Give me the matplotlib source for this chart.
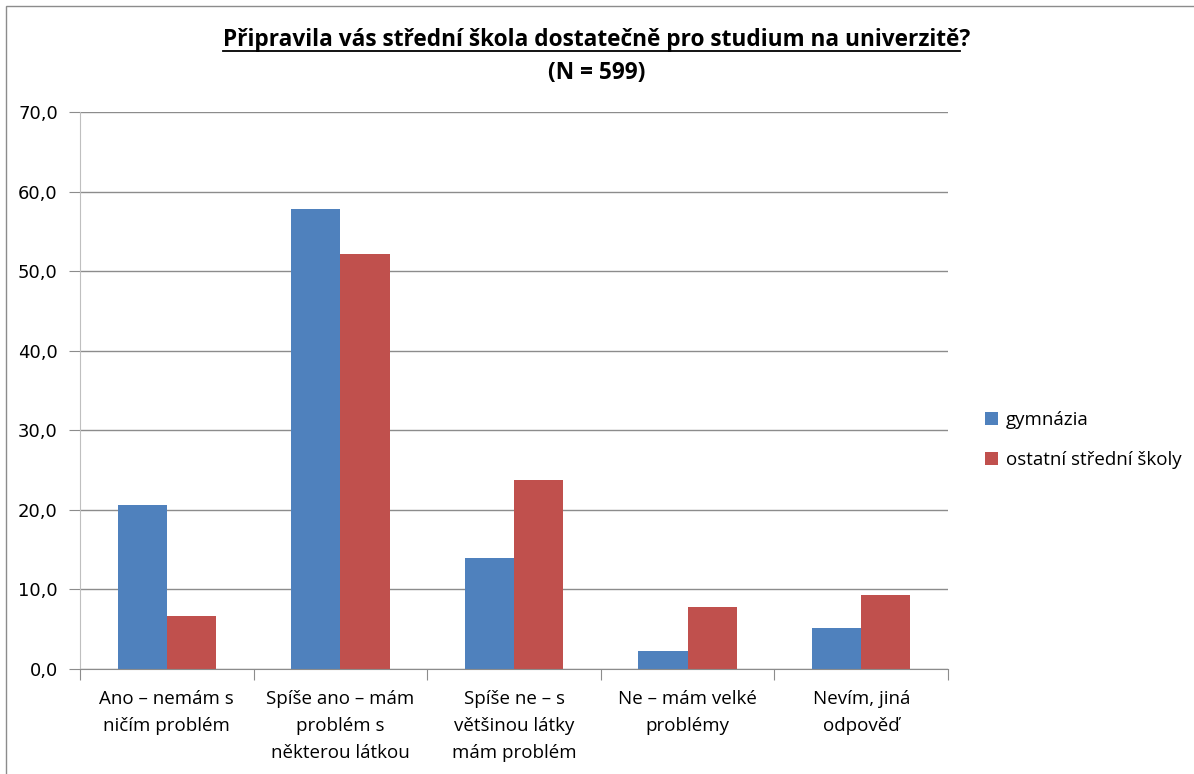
import numpy as np
import matplotlib.pyplot as plt
from matplotlib.patches import Rectangle
from matplotlib.lines import Line2D

# dati
kategorie = [
    "Ano – nemám s\nničím problém",
    "Spíše ano – mám\nproblém s\nněkterou látkou",
    "Spíše ne – s\nvětšinou látky\nmám problém",
    "Ne – mám velké\nproblémy",
    "Nevím, jiná\nodpověď",
]
gymnazia = [20.6, 57.8, 13.9, 2.2, 5.1]
ostatni = [6.7, 52.2, 23.8, 7.8, 9.3]
serie = ["gymnázia", "ostatní střední školy"]
titolo = "Připravila vás střední škola dostatečně pro studium na univerzitě"

font_txt = ["Liberation Sans Narrow", "Open Sans", "DejaVu Sans"]
plt.rcParams["font.family"] = font_txt

fig = plt.figure(figsize=(11.94, 7.74), dpi=100)
ax = fig.add_axes([80 / 1194, 1 - 669 / 774, 868 / 1194, (669 - 112) / 774])

x = np.arange(len(kategorie))
w = 0.283
b1 = ax.bar(x - w / 2, gymnazia, w, color="#4f81bd", label=serie[0])
b2 = ax.bar(x + w / 2, ostatni, w, color="#c0504d", label=serie[1])

ax.set_xlim(-0.5, len(kategorie) - 0.5)
ax.set_ylim(0, 70)
ax.set_yticks(np.arange(0, 71, 10))
ax.set_yticklabels([f"{v:.1f}".replace(".", ",") for v in np.arange(0, 71, 10)],
                   family="DejaVu Sans", fontsize=13)
ax.yaxis.grid(True, color="#8c8c8c", linewidth=1)
ax.set_axisbelow(True)

# tacche sui confini delle categorie
ax.set_xticks(np.arange(-0.5, len(kategorie)), minor=False)
ax.set_xticklabels([])
ax.set_xticks(x, minor=True)
ax.set_xticklabels(kategorie, minor=True, fontsize=13.5, linespacing=1.65)
ax.tick_params(axis="x", which="minor", length=0, pad=15)
ax.tick_params(axis="x", which="major", length=8, color="#8c8c8c")
ax.tick_params(axis="y", length=8, color="#8c8c8c", pad=8)

for s in ["top", "right"]:
    ax.spines[s].set_visible(False)
ax.spines["left"].set_color("#bfbfbf")
ax.spines["bottom"].set_color("#8c8c8c")

# titolo (sottolineato tranne il punto interrogativo)
t = fig.text(0.5, 1 - 40 / 774, titolo + "?", ha="center", va="center",
             fontsize=16.3, fontweight="bold")
fig.text(0.5, 1 - 73 / 774, "(N = 599)", ha="center", va="center",
         fontsize=16.3, fontweight="bold")
r = fig.canvas.get_renderer()
bb = t.get_window_extent(r)
q = fig.text(0, 0, "?", fontsize=16.3, fontweight="bold")
wq = q.get_window_extent(r).width
q.remove()
y_line = (1 - 51 / 774)
fig.add_artist(Line2D([bb.x0 / 1194, (bb.x1 - wq) / 1194], [y_line, y_line],
                      transform=fig.transFigure, color="black", linewidth=1.3))

leg = fig.legend(handles=[b1, b2], loc="upper left",
                 bbox_to_anchor=(968 / 1194, 1 - 394 / 774),
                 frameon=False, fontsize=13.5, handlelength=0.7, handleheight=0.7,
                 labelspacing=1.2, handletextpad=0.4)

# cornice esterna
fig.patches.append(Rectangle((6 / 1194, -0.01), 1.1, 1 - 6 / 774 + 0.01,
                             transform=fig.transFigure, fill=False,
                             edgecolor="#8c8c8c", linewidth=1))

fig.savefig("out.png", dpi=100)
